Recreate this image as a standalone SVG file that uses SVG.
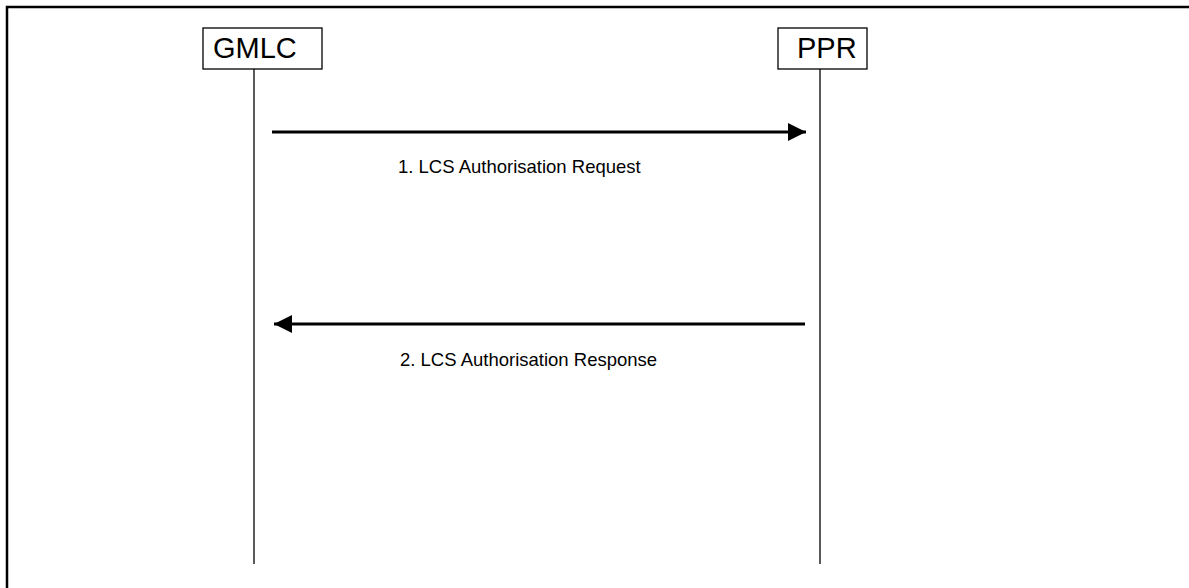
<svg xmlns="http://www.w3.org/2000/svg" width="1189" height="588" viewBox="0 0 1189 588">
<defs>
<style>
.box{fill:#fff;stroke:#000;stroke-width:1.3}
.life{stroke:#000;stroke-width:1.3;fill:none}
.msg{stroke:#000;stroke-width:3;fill:none}
.name{font-family:"Liberation Sans",Arial,sans-serif;font-size:29px;fill:#000}
.lbl{font-family:"Liberation Sans",Arial,sans-serif;font-size:18.5px;fill:#000}
</style>
<marker id="ah" viewBox="0 0 10 10" refX="10" refY="5" markerUnits="userSpaceOnUse" markerWidth="18" markerHeight="18" orient="auto">
<path d="M0,0 L10,5 L0,10 Z" fill="#000"/>
</marker>
</defs>
<rect width="1189" height="588" fill="#fff"/>
<path d="M7,588 V7 H1189" stroke="#000" stroke-width="2.5" fill="none"/>
<g id="gmlc">
<rect class="box" x="203" y="28" width="119" height="41"/>
<text class="name" x="213" y="58">GMLC</text>
<line class="life" x1="254" y1="69" x2="254" y2="564"/>
</g>
<g id="ppr">
<rect class="box" x="778" y="28" width="89" height="41"/>
<text class="name" x="797" y="58">PPR</text>
<line class="life" x1="820" y1="69" x2="820" y2="564"/>
</g>
<g id="connectors">
<line class="msg" x1="272" y1="132" x2="806" y2="132" marker-end="url(#ah)"/>
<text class="lbl" x="398" y="173">1. LCS Authorisation Request</text>
<line class="msg" x1="805" y1="324" x2="274" y2="324" marker-end="url(#ah)"/>
<text class="lbl" x="400" y="366">2. LCS Authorisation Response</text>
</g>
</svg>
